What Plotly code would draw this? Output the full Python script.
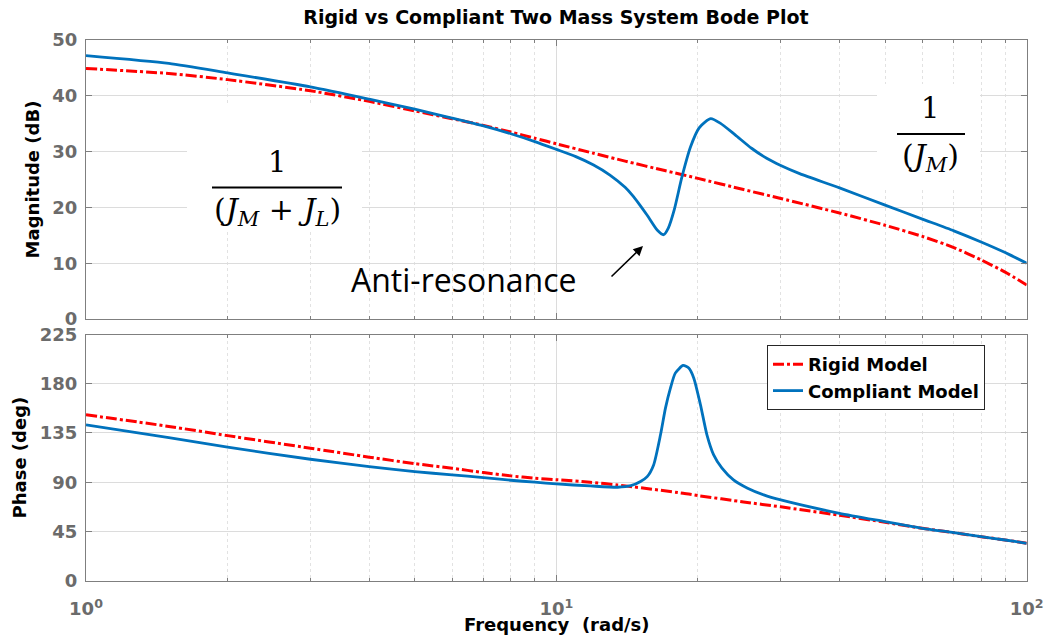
import plotly.graph_objects as go

# ---------------- data ----------------
rigid_mag_w = [1, 1.5, 2, 3, 4, 5, 6, 7, 8, 9, 10, 12, 14, 17, 20, 25, 30, 40, 50, 60, 70, 80, 90, 100]
rigid_mag = [44.9, 44.0, 42.9, 40.9, 39.0, 37.3, 35.9, 34.7, 33.5, 32.4, 31.4, 29.7, 28.3, 26.6, 25.2,
             23.2, 21.6, 19.0, 16.8, 14.8, 12.8, 10.6, 8.4, 6.1]

compliant_mag_w = [1, 1.5, 2, 3, 4, 5, 6, 7, 8, 9, 10, 11, 12, 13, 14, 14.5, 15, 15.6, 16.4, 16.9,
                   17.3, 17.8, 18.5, 19.3, 20.1, 20.7, 21.3, 22.3, 24, 26, 28, 30, 33, 40, 50, 60,
                   70, 80, 90, 100]
compliant_mag = [47.2, 45.8, 44.1, 41.6, 39.4, 37.6, 36.0, 34.6, 33.2, 31.8, 30.4, 29.1, 27.6, 25.8,
                 23.6, 22.2, 20.6, 18.6, 15.9, 15.1, 16.3, 19.5, 25.5, 30.9, 34.2, 35.3, 35.9, 35.1,
                 33.0, 30.6, 28.8, 27.5, 26.0, 23.5, 20.4, 17.9, 15.8, 13.8, 11.9, 10.0]

rigid_ph_w = [1, 1.5, 2, 3, 4, 5, 6, 7, 8, 9, 10, 11.8, 13.5, 18.6, 20, 25, 30, 40, 50, 60, 70, 80, 90, 100]
rigid_ph = [151.6, 141.0, 132.6, 121.1, 112.9, 107.0, 102.8, 98.8, 95.8, 93.6, 92.3, 90.0, 87.5, 79.9,
            77.8, 72.0, 67.5, 59.8, 53.4, 47.9, 43.9, 40.2, 37.2, 34.2]

compliant_ph_w = [1, 1.5, 2, 3, 4, 5, 6, 7, 8, 9, 10, 11.8, 13.5, 14.4, 15.1, 15.6, 16.1, 16.65, 17.06,
                  17.48, 17.9, 18.6, 19.12, 19.6, 20.25, 20.9, 21.6, 22.5, 23.8, 25.5, 27.6, 30, 40,
                  50, 60, 70, 80, 90, 100]
compliant_ph = [142.4, 130.8, 122.0, 111.0, 104.3, 99.7, 96.7, 94.2, 91.8, 90.0, 88.4, 86.6, 85.4,
                86.8, 90.6, 95.1, 105.8, 133.3, 157.7, 176.0, 189.7, 196.7, 194.3, 185.1, 160.7,
                133.3, 115.0, 102.8, 92.1, 84.5, 78.4, 73.8, 61.6, 54.0, 47.9, 43.9, 40.2, 37.2, 34.2]

x_tick_vals = [1, 10, 100]
x_tick_text = ["10<sup>0</sup>", "10<sup>1</sup>", "10<sup>2</sup>"]
x_minor_vals = [2, 3, 4, 5, 6, 7, 8, 9, 20, 30, 40, 50, 60, 70, 80, 90]
mag_ticks = [0, 10, 20, 30, 40, 50]
ph_ticks = [0, 45, 90, 135, 180, 225]

# ---------------- styling ----------------
W, H = 1057, 638
BLUE = "#0072BD"
RED = "#FF0000"
RED_DASH = "11px,3px,3px,3px"
FRAME = "#7f7f7f"
GRID = "#dcdcdc"
MINOR_GRID = "#e2e2e2"
TICKC = "#6b6b6b"
FONT = "DejaVu Sans"
SMOOTH = 0.6

# plot area in pixels
L, R = 86, 1026.7
T1, B1 = 40, 319
T2, B2 = 334.5, 580.7

xdom = [L / W, R / W]
ydom1 = [(H - B1) / H, (H - T1) / H]
ydom2 = [(H - B2) / H, (H - T2) / H]

fig = go.Figure()

fig.add_trace(go.Scatter(x=rigid_mag_w, y=rigid_mag, mode="lines", name="Rigid Model",
                         line=dict(color=RED, width=3, dash=RED_DASH, shape="spline", smoothing=SMOOTH),
                         xaxis="x", yaxis="y", showlegend=False))
fig.add_trace(go.Scatter(x=compliant_mag_w, y=compliant_mag, mode="lines", name="Compliant Model",
                         line=dict(color=BLUE, width=2.8, shape="spline", smoothing=SMOOTH),
                         xaxis="x", yaxis="y", showlegend=False))
fig.add_trace(go.Scatter(x=rigid_ph_w, y=rigid_ph, mode="lines", name="Rigid Model",
                         line=dict(color=RED, width=3, dash=RED_DASH, shape="spline", smoothing=SMOOTH),
                         xaxis="x2", yaxis="y2"))
fig.add_trace(go.Scatter(x=compliant_ph_w, y=compliant_ph, mode="lines", name="Compliant Model",
                         line=dict(color=BLUE, width=2.8, shape="spline", smoothing=SMOOTH),
                         xaxis="x2", yaxis="y2"))

tickfont = dict(family=FONT, size=18, color=TICKC, weight="bold")
common_x = dict(type="log", range=[0, 2], domain=xdom, tickvals=x_tick_vals,
                showline=True, linecolor=FRAME, linewidth=1, mirror="allticks",
                ticks="inside", ticklen=6, tickcolor=FRAME,
                showgrid=True, gridcolor=GRID, gridwidth=1, zeroline=False,
                minor=dict(tickvals=x_minor_vals, ticks="inside", ticklen=3, tickcolor=FRAME,
                           showgrid=True, gridcolor=MINOR_GRID, griddash="dot", gridwidth=1),
                automargin=False, fixedrange=True)
common_y = dict(showline=True, linecolor=FRAME, linewidth=1, mirror="allticks",
                ticks="inside", ticklen=6, tickcolor=FRAME,
                showgrid=True, gridcolor=GRID, gridwidth=1, zeroline=False,
                tickfont=tickfont, ticklabelstandoff=4, automargin=False)

fig.update_layout(
    width=W, height=H,
    margin=dict(l=0, r=0, t=0, b=0),
    paper_bgcolor="white", plot_bgcolor="white",
    xaxis=dict(common_x, anchor="y", showticklabels=False),
    xaxis2=dict(common_x, anchor="y2", ticktext=x_tick_text, tickfont=tickfont,
                ticklabelstandoff=12),
    yaxis=dict(common_y, domain=ydom1, anchor="x", range=[0, 50], tickvals=mag_ticks,
               title=dict(text="Magnitude (dB)", standoff=8,
                          font=dict(family=FONT, size=18, color="black", weight="bold"))),
    yaxis2=dict(common_y, domain=ydom2, anchor="x2", range=[0, 225], tickvals=ph_ticks,
                title=dict(text="Phase (deg)", standoff=8,
                           font=dict(family=FONT, size=18, color="black", weight="bold"))),
    title=dict(text="Rigid vs Compliant Two Mass System Bode Plot",
               font=dict(family=FONT, size=19, color="black", weight="bold"),
               x=556 / W, xanchor="center", xref="paper",
               y=1 - 17 / H, yanchor="middle", yref="container"),
    legend=dict(x=985 / W, y=(H - 345) / H, xanchor="right", yanchor="top",
                bgcolor="white", bordercolor="#262626", borderwidth=1,
                font=dict(family=FONT, size=18, color="black", weight="bold"),
                tracegroupgap=0, itemwidth=30),
    showlegend=True,
)


def pxp(px):
    return px / W


def pyp(py):
    return (H - py) / H


# white boxes behind the pasted formulas
for (x0, x1, y0, y1) in [(187, 362, 106, 232), (877, 980, 84, 190)]:
    fig.add_shape(type="rect", xref="paper", yref="paper",
                  x0=pxp(x0), x1=pxp(x1), y0=pyp(y1), y1=pyp(y0),
                  fillcolor="white", line=dict(width=0), layer="above")

# fraction bars
for (x0, x1, yb) in [(212, 342, 187.5), (897, 965, 134)]:
    fig.add_shape(type="line", xref="paper", yref="paper",
                  x0=pxp(x0), x1=pxp(x1), y0=pyp(yb), y1=pyp(yb),
                  line=dict(color="black", width=2), layer="above")

MATH = "DejaVu Serif"
ann = []
ann.append(dict(text="1", x=pxp(277), y=pyp(162), font=dict(family=MATH, size=29, color="black")))
ann.append(dict(text="(<i>J</i><sub><i>M</i></sub> + <i>J</i><sub><i>L</i></sub>)",
                x=pxp(277), y=pyp(212), font=dict(family=MATH, size=30, color="black")))
ann.append(dict(text="1", x=pxp(930), y=pyp(108), font=dict(family=MATH, size=29, color="black")))
ann.append(dict(text="(<i>J</i><sub><i>M</i></sub>)",
                x=pxp(930), y=pyp(158), font=dict(family=MATH, size=30, color="black")))
ann.append(dict(text="Anti-resonance", x=pxp(464), y=pyp(279),
                font=dict(family="Open Sans", size=32, color="black")))
ann.append(dict(text="Frequency\u00a0 (rad/s)", x=pxp(557), y=pyp(624),
                font=dict(family=FONT, size=18, color="black", weight="bold")))
for a in ann:
    a.update(xref="paper", yref="paper", xanchor="center", yanchor="middle", showarrow=False)
    fig.add_annotation(**a)

# arrow pointing at the anti-resonance dip
fig.add_annotation(text="", xref="paper", yref="paper", x=pxp(643), y=pyp(246),
                   ax=-33, ay=32, showarrow=True, arrowhead=2, arrowsize=1.2,
                   arrowwidth=1.6, arrowcolor="black")

fig.write_html("out.html")
